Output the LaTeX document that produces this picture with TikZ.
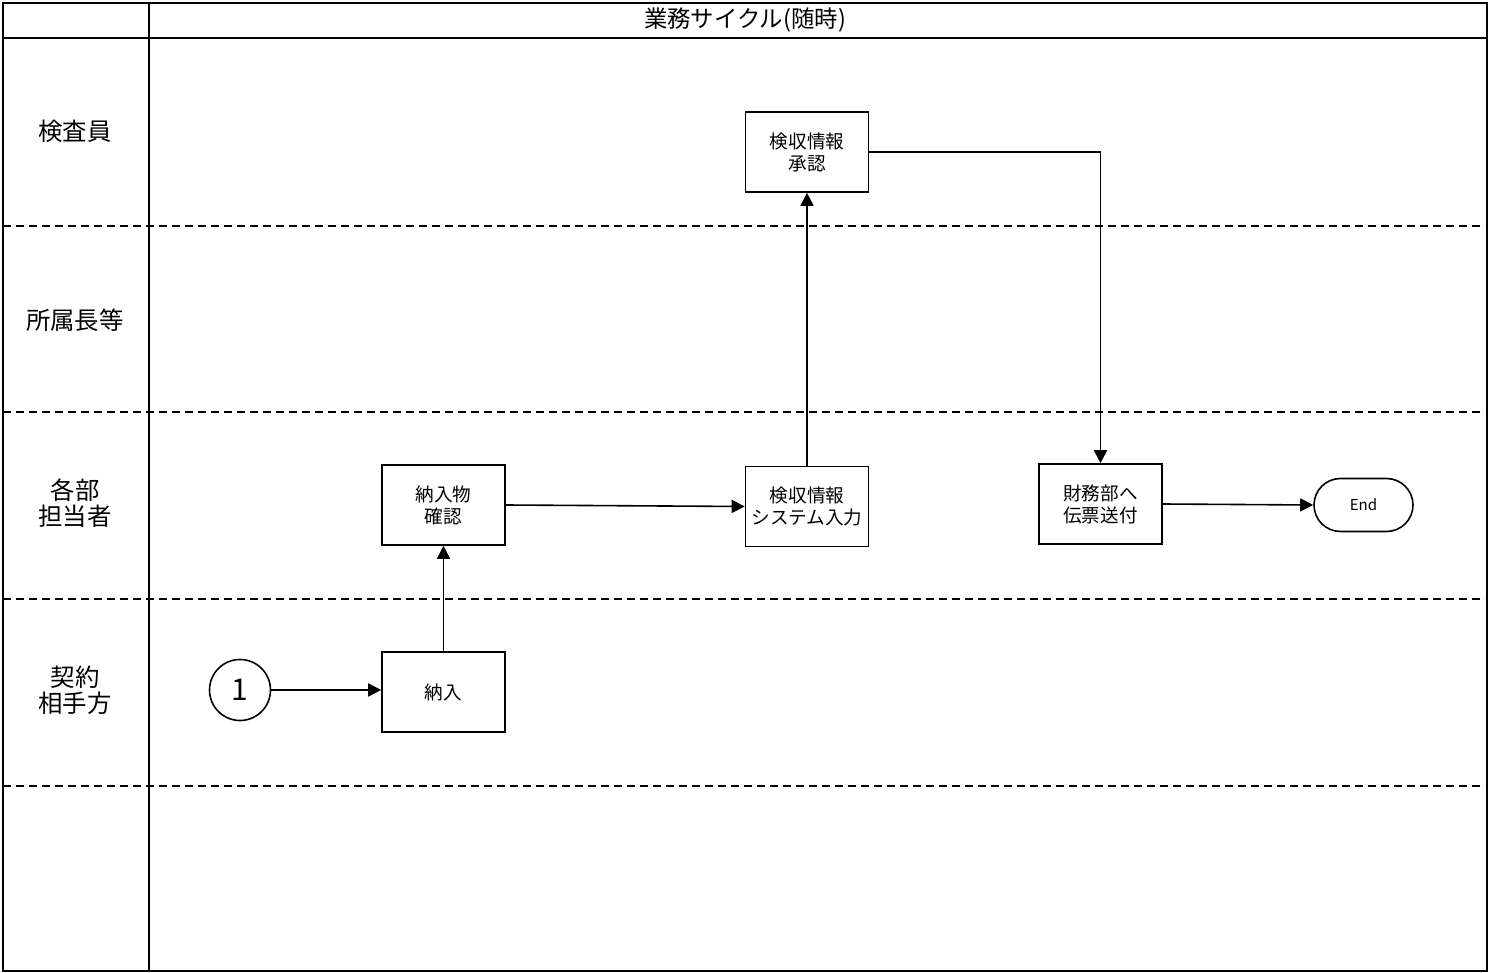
\documentclass[tikz,border=0pt]{standalone}
\usepackage{fontspec}
\setmainfont{Noto Sans CJK JP}
\usetikzlibrary{arrows.meta,shapes.misc}
\begin{document}
\begin{tikzpicture}[x=0.5pt,y=-0.5pt,
  box/.style={draw,line width=0.8pt,minimum width=61.5pt,minimum height=40pt,inner sep=0pt,align=center,font=\fontsize{9.3}{11}\selectfont},
  lane/.style={align=center,font=\fontsize{12.2}{13}\selectfont},
  lanesep/.style={line width=0.7pt,dash pattern=on 4pt off 2.5pt},
  frame/.style={line width=0.9pt},
  arr/.style={line width=0.8pt,-{Triangle[length=6.5pt,width=6.5pt]}},
  endbox/.style={draw,line width=0.8pt,rounded rectangle,minimum width=49.5pt,minimum height=26.5pt,inner sep=0pt,font=\fontsize{7.5}{8}\selectfont},
  startc/.style={draw,line width=0.8pt,circle,minimum size=30.5pt,inner sep=0pt,font=\fontsize{15}{15}\selectfont}]
\useasboundingbox (0,0) rectangle (1489,973);
% frame
\draw[frame] (3,3) rectangle (1487,971);
\draw[frame] (3,38) -- (1487,38);
\draw[frame] (149,3) -- (149,971);
\foreach \y in {226,412,599,786} \draw[lanesep] (3,\y) -- (1485,\y);
\node[font=\fontsize{11.7}{12}\selectfont] (hdr) at (745,20) {業務サイクル(随時)};
\node[lane] (l1) at (75,131) {検査員};
\node[lane] (l2) at (75,320) {所属長等};
\node[lane] (l3) at (75,503) {各部\\担当者};
\node[lane] (l4) at (75,690) {契約\\相手方};
% nodes
\node[box] (approve) at (807,152) {検収情報\\承認};
\node[box] (check) at (443.5,505) {納入物\\確認};
\node[box] (input) at (807,506.5) {検収情報\\システム入力};
\node[box] (send) at (1100.5,504) {財務部へ\\伝票送付};
\node[endbox] (end) at (1363.5,505) {End};
\node[startc] (s1) at (240,690) {1};
\node[box] (deliver) at (443.5,692) {納入};
% connectors
\draw[arr] (s1) -- (deliver.west|-s1);
\draw[arr] (deliver) -- (check);
\draw[arr] (check.east) -- (input.west);
\draw[arr] (input) -- (approve);
\draw[arr] (approve.east) -| (send.north);
\draw[arr] (send.east) -- (end.west);
\end{tikzpicture}
\end{document}
